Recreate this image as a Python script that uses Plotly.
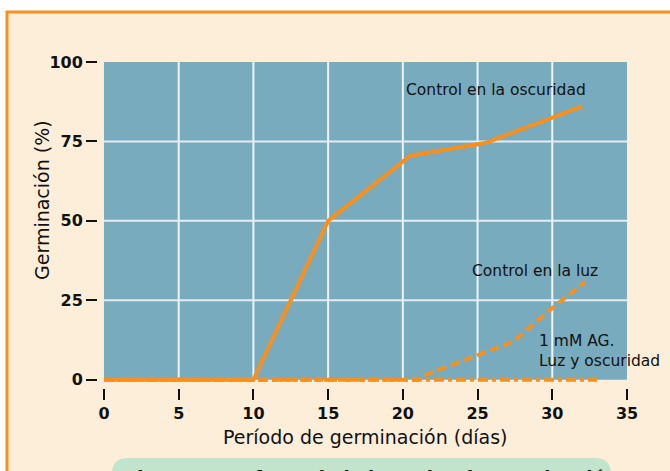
import plotly.graph_objects as go

# ---- data ----
dark_x = [0, 10, 15, 20.5, 25.5, 32]
dark_y = [0, 0, 50, 70.5, 74.5, 86]

light_x = [0, 21, 21.5, 24.7, 27.4, 29.7, 32.2]
light_y = [0, 0, 1.5, 7.2, 12, 21.4, 30.8]

ag_x = [0, 33]
ag_y = [0, 0]

x_ticks = [0, 5, 10, 15, 20, 25, 30, 35]
y_ticks = [0, 25, 50, 75, 100]

ORANGE = "#F7901E"
BLUE = "#79ABBF"
CREAM = "#FDEEDA"
FONT = "DejaVu Sans"

W, H = 670, 471
ML, MR, MT, MB = 98, 43, 62, 83
PW, PH = W - ML - MR, H - MT - MB


def X(px):
    return (px - ML) / PW


def Y(py):
    return (H - MB - py) / PH


fig = go.Figure()

fig.add_trace(go.Scatter(x=ag_x, y=ag_y, mode="lines",
                         line=dict(color=ORANGE, width=4, dash="10px,4px,4px,4px"),
                         showlegend=False, hoverinfo="skip"))
fig.add_trace(go.Scatter(x=light_x, y=light_y, mode="lines",
                         line=dict(color=ORANGE, width=4, dash="9px,5px"),
                         showlegend=False, hoverinfo="skip"))
fig.add_trace(go.Scatter(x=dark_x, y=dark_y, mode="lines",
                         line=dict(color=ORANGE, width=4),
                         showlegend=False, hoverinfo="skip"))

shapes = []
# page background with orange frame
shapes.append(dict(type="rect", xref="paper", yref="paper",
                   x0=X(7), x1=X(700), y0=Y(12), y1=Y(500),
                   fillcolor=CREAM, line=dict(color=ORANGE, width=3), layer="below"))
# caption box (rounded)
bx0, bx1, by0, by1, r = X(112), X(611), Y(458), Y(520), 16 / PW
ry = 16 / PH
path = (f"M {bx0+r},{by0} L {bx1-r},{by0} Q {bx1},{by0} {bx1},{by0-ry} "
        f"L {bx1},{by1} L {bx0},{by1} L {bx0},{by0-ry} Q {bx0},{by0} {bx0+r},{by0} Z")
shapes.append(dict(type="path", xref="paper", yref="paper", path=path,
                   fillcolor="#C3E4CC", line=dict(width=0), layer="below"))
# plot panel
shapes.append(dict(type="rect", xref="x", yref="y", x0=0, x1=35, y0=0, y1=100,
                   fillcolor=BLUE, line=dict(width=0), layer="below"))
for gx in x_ticks[1:-1]:
    shapes.append(dict(type="line", xref="x", yref="y", x0=gx, x1=gx, y0=0, y1=100,
                       line=dict(color="#EEF5F8", width=2), layer="below"))
for gy in y_ticks[1:-1]:
    shapes.append(dict(type="line", xref="x", yref="y", x0=0, x1=35, y0=gy, y1=gy,
                       line=dict(color="#E2EEF2", width=2), layer="below"))

ann_font = dict(family=FONT, size=15.5, color="#111111")
annotations = [
    dict(text="Control en la oscuridad", x=X(404), y=Y(90), xanchor="left", yanchor="middle"),
    dict(text="Control en la luz", x=X(470), y=Y(271), xanchor="left", yanchor="middle"),
    dict(text="1 mM AG.", x=X(537), y=Y(341), xanchor="left", yanchor="middle"),
    dict(text="Luz y oscuridad", x=X(537), y=Y(361), xanchor="left", yanchor="middle"),
]
for a in annotations:
    a.update(xref="paper", yref="paper", showarrow=False, font=ann_font)

annotations.append(dict(text="Período de germinación (días)", x=X(365), y=Y(437),
                        xref="paper", yref="paper", showarrow=False,
                        xanchor="center", yanchor="middle",
                        font=dict(family=FONT, size=19, color="#111111")))
annotations.append(dict(text="Germinación (%)", x=X(42), y=Y(200), textangle=-90,
                        xref="paper", yref="paper", showarrow=False,
                        xanchor="center", yanchor="middle",
                        font=dict(family=FONT, size=19, color="#111111")))
annotations.append(dict(text="<b>Figura 1.1: Efecto de la luz sobre la germinación</b>",
                        x=X(123), y=Y(465), xref="paper", yref="paper", showarrow=False,
                        xanchor="left", yanchor="top",
                        font=dict(family=FONT, size=18, color="#111111")))

tick_font = dict(family=FONT, size=16, color="#111111", weight="bold")

fig.update_layout(
    width=W, height=H,
    margin=dict(l=ML, r=MR, t=MT, b=MB, pad=0),
    paper_bgcolor="white",
    plot_bgcolor="rgba(0,0,0,0)",
    shapes=shapes,
    annotations=annotations,
    xaxis=dict(range=[-0.4, 35], tickvals=x_ticks, ticktext=[str(v) for v in x_ticks],
               ticks="outside", ticklen=11, tickwidth=2, tickcolor="#111111",
               showgrid=False, zeroline=False, showline=False, tickfont=tick_font),
    yaxis=dict(range=[-2.6, 100], tickvals=y_ticks, ticktext=[str(v) for v in y_ticks],
               ticks="outside", ticklen=11, tickwidth=2, tickcolor="#111111",
               showgrid=False, zeroline=False, showline=False, tickfont=tick_font,
               ticklabelstandoff=0),
)

fig.write_html("out.html", config={"displayModeBar": False},
               post_script="document.body.style.margin='0';")
